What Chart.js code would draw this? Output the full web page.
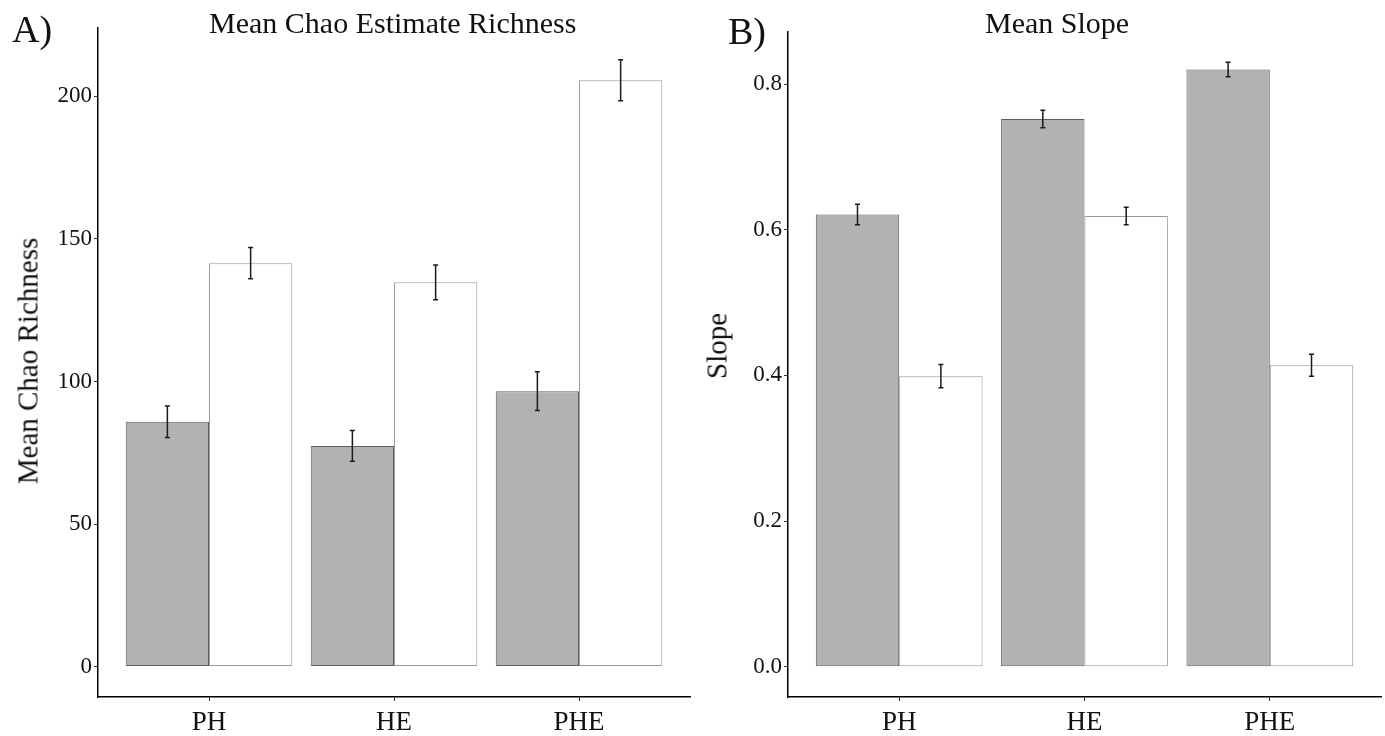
<!DOCTYPE html>
<html>
<head>
<meta charset="utf-8">
<script src="https://cdn.jsdelivr.net/npm/chart.js@4"></script>
<style>
  body { margin: 0; background: #fff; }
  #wrap { position: relative; width: 1385px; height: 736px; font-family: 'Liberation Serif', 'Times New Roman', serif; color: #111; }
  canvas { position: absolute; top: 0; }
  .lbl { position: absolute; white-space: nowrap; line-height: 1; }
  .ytitle { position: absolute; white-space: nowrap; line-height: 1; font-size: 29px; transform: translate(-50%, -50%) rotate(-90deg); }
</style>
</head>
<body>
<div id="wrap">
  <canvas id="chao" width="692" height="736" style="left:0"></canvas>
  <canvas id="slope" width="693" height="736" style="left:692px"></canvas>
  <div class="lbl" style="left:12px;top:10px;font-size:38px">A)</div>
  <div class="lbl" style="left:209px;top:8px;font-size:30px">Mean Chao Estimate Richness</div>
  <div class="ytitle" style="left:28px;top:361px">Mean Chao Richness</div>
  <div class="lbl" style="left:728px;top:12px;font-size:38px">B)</div>
  <div class="lbl" style="left:985px;top:8px;font-size:30px">Mean Slope</div>
  <div class="ytitle" style="left:717px;top:346px">Slope</div>
</div>
<script>
// data
const categories = ['PH', 'HE', 'PHE'];

const chaoGrey = [85.9, 77.4, 96.6];
const chaoGreyErr = [5.5, 5.4, 6.8];
const chaoWhite = [141.5, 134.8, 205.7];
const chaoWhiteErr = [5.5, 6.1, 7.2];
const chaoTicks = [0, 50, 100, 150, 200];

const slopeGrey = [0.621, 0.752, 0.820];
const slopeGreyErr = [0.014, 0.012, 0.010];
const slopeWhite = [0.399, 0.619, 0.414];
const slopeWhiteErr = [0.016, 0.012, 0.015];
const slopeTicks = [0, 0.2, 0.4, 0.6, 0.8];

const positions = categories.map((c, i) => i + 1);
const serif = "'Liberation Serif', 'Times New Roman', serif";

// error bars drawn from the y scale
const errorBars = {
  id: 'errorBars',
  afterDatasetsDraw(chart) {
    const ctx = chart.ctx;
    const y = chart.scales.y;
    chart.data.datasets.forEach((ds, di) => {
      chart.getDatasetMeta(di).data.forEach((bar, i) => {
        const v = ds.data[i].y, e = ds.errors[i];
        const top = y.getPixelForValue(v + e);
        const bot = y.getPixelForValue(v - e);
        ctx.save();
        ctx.strokeStyle = '#1a1a1a';
        ctx.lineWidth = 1.5;
        ctx.beginPath();
        ctx.moveTo(bar.x, top); ctx.lineTo(bar.x, bot);
        ctx.moveTo(bar.x - 2.5, top); ctx.lineTo(bar.x + 2.5, top);
        ctx.moveTo(bar.x - 2.5, bot); ctx.lineTo(bar.x + 2.5, bot);
        ctx.stroke();
        ctx.restore();
      });
    });
  }
};

function makeChart(id, grey, greyErr, white, whiteErr, yMin, yMax, yTicks, fmt, yWidth, padTop, padRight) {
  new Chart(document.getElementById(id), {
    type: 'bar',
    data: {
      datasets: [{
        data: positions.map((x, i) => ({ x: x, y: grey[i] })),
        errors: greyErr,
        backgroundColor: '#b2b2b2',
        borderColor: '#5e5e5e',
        borderWidth: 1,
        borderSkipped: false,
        categoryPercentage: 0.9,
        barPercentage: 1
      }, {
        data: positions.map((x, i) => ({ x: x, y: white[i] })),
        errors: whiteErr,
        backgroundColor: '#ffffff',
        borderColor: '#9a9a9a',
        borderWidth: 1,
        borderSkipped: false,
        categoryPercentage: 0.9,
        barPercentage: 1
      }]
    },
    options: {
      responsive: false,
      animation: false,
      devicePixelRatio: 1,
      layout: { padding: { left: 0, right: padRight, top: padTop, bottom: 0 } },
      plugins: { legend: { display: false }, tooltip: { enabled: false } },
      scales: {
        x: {
          type: 'linear',
          min: 0.4,
          max: 3.6,
          offset: false,
          afterBuildTicks: s => { s.ticks = positions.map(v => ({ value: v })); },
          afterFit: s => { s.height = 39; },
          grid: { display: true, offset: false, drawOnChartArea: false, tickLength: 4, color: '#333' },
          border: { display: true, color: '#000', width: 1.5 },
          ticks: {
            font: { family: serif, size: 27 },
            color: '#111',
            padding: 6,
            maxRotation: 0,
            autoSkip: false,
            callback: v => categories[Math.round(v) - 1]
          }
        },
        y: {
          min: yMin,
          max: yMax,
          afterBuildTicks: s => { s.ticks = yTicks.map(v => ({ value: v })); },
          afterFit: s => { s.width = yWidth; },
          grid: { display: true, drawOnChartArea: false, tickLength: 4, color: '#333' },
          border: { display: true, color: '#000', width: 1.5 },
          ticks: {
            font: { family: serif, size: 23 },
            color: '#111',
            padding: 2,
            callback: fmt
          }
        }
      }
    },
    plugins: [errorBars]
  });
}

makeChart('chao', chaoGrey, chaoGreyErr, chaoWhite, chaoWhiteErr,
  -10.67, 224, chaoTicks, v => String(v), 98, 28, 2);
makeChart('slope', slopeGrey, slopeGreyErr, slopeWhite, slopeWhiteErr,
  -0.0415, 0.8715, slopeTicks, v => v.toFixed(1), 96, 32, 4);
</script>
</body>
</html>
